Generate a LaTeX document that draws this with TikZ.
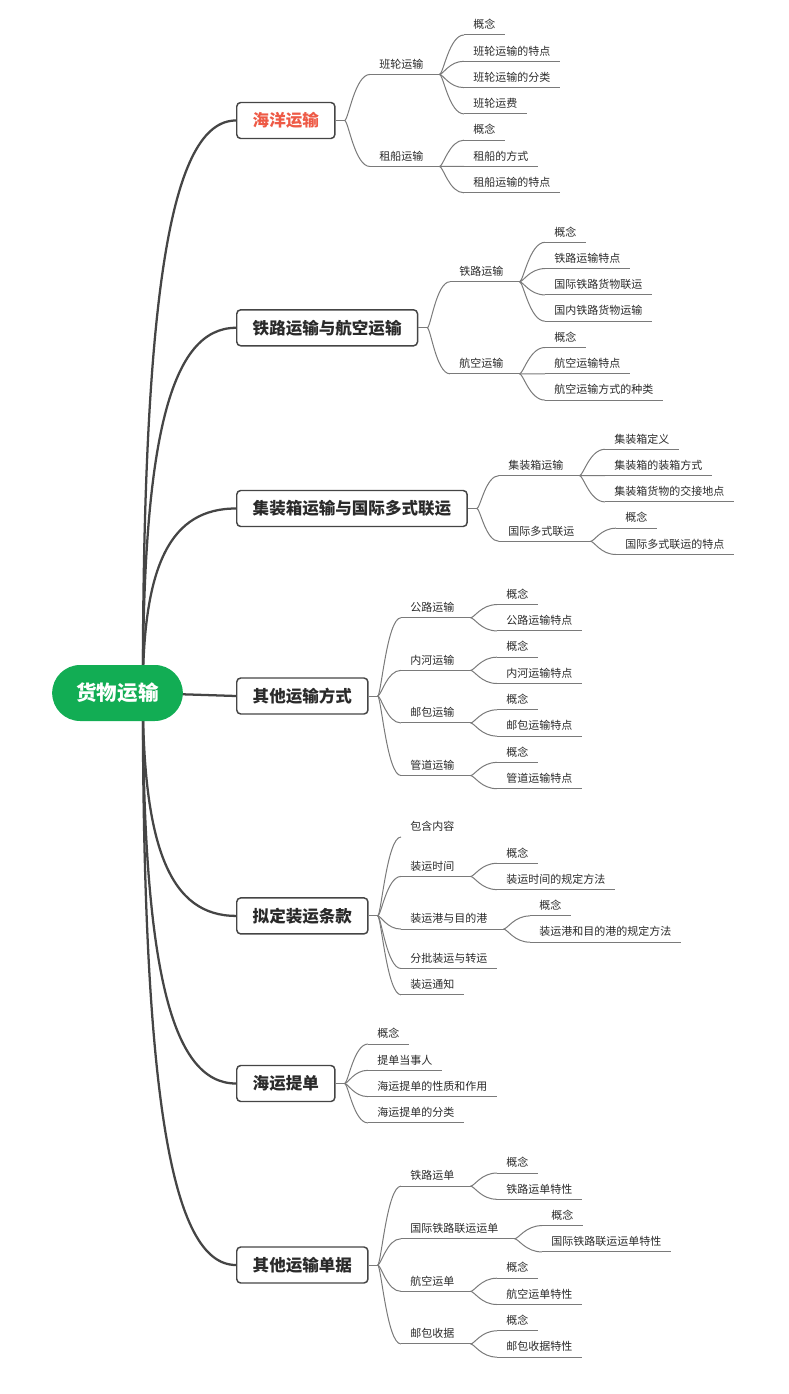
\documentclass[tikz,border=0pt]{standalone}
\usepackage{fontspec}
\setmainfont{Noto Sans CJK SC}
\usetikzlibrary{calc,backgrounds}
\definecolor{trunkgray}{HTML}{454545}
\definecolor{twiggray}{HTML}{7A7A7A}
\definecolor{rootgreen}{HTML}{12AD54}
\definecolor{seared}{HTML}{EE5A46}
\definecolor{inkgray}{HTML}{2A2A2A}
\tikzset{
  rootpill/.style={fill=rootgreen, text=white, rounded corners=21pt,
    minimum width=98pt, minimum height=42pt,
    font=\fontsize{15.4}{18}\selectfont\bfseries},
  topic/.style={draw=trunkgray, line width=1.1pt, fill=white, rounded corners=3pt,
    minimum height=27pt, inner xsep=12pt, anchor=west, text=inkgray,
    font=\fontsize{12.4}{15}\selectfont\bfseries},
  bare/.style={anchor=south west, inner xsep=6.75pt, inner ysep=3pt,
    text height=7pt, text depth=1.5pt, text=inkgray,
    font=\fontsize{8.25}{10}\selectfont},
  item/.style={bare, append after command={(\tikzlastnode.south west)
    edge[twig] (\tikzlastnode.south east)}},
  twig/.style={draw=twiggray, line width=0.75pt},
  trunk/.style={draw=trunkgray, line width=1.7pt, line cap=round},
  twigcurve/.style={to path={.. controls
    ($(\tikztostart)!.15!(\tikztotarget|-\tikztostart)$) and
    ($(\tikztotarget)!.6!(\tikztostart|-\tikztotarget)$) .. (\tikztotarget)}},
  trunkcurve/.style={to path={.. controls
    ($(\tikztostart)!.7!(\tikztostart|-\tikztotarget)$) and
    ($(\tikztotarget)!.7!(\tikztostart|-\tikztotarget)$) .. (\tikztotarget)}}
}
\begin{document}
\begin{tikzpicture}[x=0.75pt, y=-0.75pt]
  \useasboundingbox (0,0) rectangle (788,1394);
  \node[rootpill] (r) at (117.5,693) {货物运输};
  \coordinate (hub) at ([xshift=19pt]r.center);

  \node[topic, text=seared] (b1) at (236,120.5) {海洋运输};
  \node[topic] (b2) at (236,327.8) {铁路运输与航空运输};
  \node[topic] (b3) at (236,508.5) {集装箱运输与国际多式联运};
  \node[topic] (b4) at (236,696) {其他运输方式};
  \node[topic] (b5) at (236,915.9) {拟定装运条款};
  \node[topic] (b6) at (236,1083.5) {海运提单};
  \node[topic] (b7) at (236,1265) {其他运输单据};

  \node[item] (s11) at (370,74.45) {班轮运输};
  \node[item] (s12) at (370,166.5) {租船运输};
  \node[item] (l111) at (464,35) {概念};
  \node[item] (l112) at (464,61.3) {班轮运输的特点};
  \node[item] (l113) at (464,87.6) {班轮运输的分类};
  \node[item] (l114) at (464,113.9) {班轮运费};
  \node[item] (l121) at (464,140.2) {概念};
  \node[item] (l122) at (464,166.5) {租船的方式};
  \node[item] (l123) at (464,192.8) {租船运输的特点};

  \node[item] (s21) at (450,281.75) {铁路运输};
  \node[item] (s22) at (450,373.8) {航空运输};
  \node[item] (l211) at (545,242.3) {概念};
  \node[item] (l212) at (545,268.6) {铁路运输特点};
  \node[item] (l213) at (545,294.9) {国际铁路货物联运};
  \node[item] (l214) at (545,321.2) {国内铁路货物运输};
  \node[item] (l221) at (545,347.5) {概念};
  \node[item] (l222) at (545,373.8) {航空运输特点};
  \node[item] (l223) at (545,400.1) {航空运输方式的种类};

  \node[item] (s31) at (499,475.6) {集装箱运输};
  \node[item] (s32) at (499,541.35) {国际多式联运};
  \node[item] (l311) at (605,449.3) {集装箱定义};
  \node[item] (l312) at (605,475.6) {集装箱的装箱方式};
  \node[item] (l313) at (605,501.9) {集装箱货物的交接地点};
  \node[item] (l321) at (616,528.2) {概念};
  \node[item] (l322) at (616,554.5) {国际多式联运的特点};

  \node[item] (s41) at (401,617.75) {公路运输};
  \node[item] (s42) at (401,670.35) {内河运输};
  \node[item] (s43) at (401,722.95) {邮包运输};
  \node[item] (s44) at (401,775.55) {管道运输};
  \node[item] (l411) at (497,604.6) {概念};
  \node[item] (l412) at (497,630.9) {公路运输特点};
  \node[item] (l421) at (497,657.2) {概念};
  \node[item] (l422) at (497,683.5) {内河运输特点};
  \node[item] (l431) at (497,709.8) {概念};
  \node[item] (l432) at (497,736.1) {邮包运输特点};
  \node[item] (l441) at (497,762.4) {概念};
  \node[item] (l442) at (497,788.7) {管道运输特点};

  \node[bare] (s51) at (401,837) {包含内容};
  \node[item] (s52) at (401,876.45) {装运时间};
  \node[item] (s53) at (401,929.05) {装运港与目的港};
  \node[item] (s54) at (401,968.5) {分批装运与转运};
  \node[item] (s55) at (401,994.8) {装运通知};
  \node[item] (l521) at (497,863.3) {概念};
  \node[item] (l522) at (497,889.6) {装运时间的规定方法};
  \node[item] (l531) at (530,915.9) {概念};
  \node[item] (l532) at (530,942.2) {装运港和目的港的规定方法};

  \node[item] (s61) at (368,1044) {概念};
  \node[item] (s62) at (368,1070.3) {提单当事人};
  \node[item] (s63) at (368,1096.6) {海运提单的性质和作用};
  \node[item] (s64) at (368,1122.9) {海运提单的分类};

  \node[item] (s71) at (401,1186.15) {铁路运单};
  \node[item] (s72) at (401,1238.75) {国际铁路联运运单};
  \node[item] (s73) at (401,1291.35) {航空运单};
  \node[item] (s74) at (401,1343.95) {邮包收据};
  \node[item] (l711) at (497,1173) {概念};
  \node[item] (l712) at (497,1199.3) {铁路运单特性};
  \node[item] (l721) at (542,1225.6) {概念};
  \node[item] (l722) at (542,1251.9) {国际铁路联运运单特性};
  \node[item] (l731) at (497,1278.2) {概念};
  \node[item] (l732) at (497,1304.5) {航空运单特性};
  \node[item] (l741) at (497,1330.8) {概念};
  \node[item] (l742) at (497,1357.1) {邮包收据特性};

  \begin{scope}[on background layer]
    \draw[trunk] (hub) to[trunkcurve] (b1.west);
    \draw[trunk] (hub) to[trunkcurve] (b2.west);
    \draw[trunk] (hub) to[trunkcurve] (b3.west);
    \draw[trunk] (hub) -- (b4.west);
    \draw[trunk] (hub) to[trunkcurve] (b5.west);
    \draw[trunk] (hub) to[trunkcurve] (b6.west);
    \draw[trunk] (hub) to[trunkcurve] (b7.west);
  \end{scope}

  \begin{scope}[twig]
    \draw (b1.east) -- ++(6.75pt,0) coordinate (f1);
    \draw (f1) to[twigcurve] (s11.south west);
    \draw (f1) to[twigcurve] (s12.south west);
    \draw (s11.south east) -- ++(5.25pt,0) coordinate (f11);
    \draw (f11) to[twigcurve] (l111.south west);
    \draw (f11) to[twigcurve] (l112.south west);
    \draw (f11) to[twigcurve] (l113.south west);
    \draw (f11) to[twigcurve] (l114.south west);
    \draw (s12.south east) -- ++(5.25pt,0) coordinate (f12);
    \draw (f12) to[twigcurve] (l121.south west);
    \draw (f12) to[twigcurve] (l122.south west);
    \draw (f12) to[twigcurve] (l123.south west);

    \draw (b2.east) -- ++(6.75pt,0) coordinate (f2);
    \draw (f2) to[twigcurve] (s21.south west);
    \draw (f2) to[twigcurve] (s22.south west);
    \draw (s21.south east) -- ++(5.25pt,0) coordinate (f21);
    \draw (f21) to[twigcurve] (l211.south west);
    \draw (f21) to[twigcurve] (l212.south west);
    \draw (f21) to[twigcurve] (l213.south west);
    \draw (f21) to[twigcurve] (l214.south west);
    \draw (s22.south east) -- ++(5.25pt,0) coordinate (f22);
    \draw (f22) to[twigcurve] (l221.south west);
    \draw (f22) to[twigcurve] (l222.south west);
    \draw (f22) to[twigcurve] (l223.south west);

    \draw (b3.east) -- ++(6.75pt,0) coordinate (f3);
    \draw (f3) to[twigcurve] (s31.south west);
    \draw (f3) to[twigcurve] (s32.south west);
    \draw (s31.south east) -- ++(5.25pt,0) coordinate (f31);
    \draw (f31) to[twigcurve] (l311.south west);
    \draw (f31) to[twigcurve] (l312.south west);
    \draw (f31) to[twigcurve] (l313.south west);
    \draw (s32.south east) -- ++(5.25pt,0) coordinate (f32);
    \draw (f32) to[twigcurve] (l321.south west);
    \draw (f32) to[twigcurve] (l322.south west);

    \draw (b4.east) -- ++(6.75pt,0) coordinate (f4);
    \draw (f4) to[twigcurve] (s41.south west);
    \draw (f4) to[twigcurve] (s42.south west);
    \draw (f4) to[twigcurve] (s43.south west);
    \draw (f4) to[twigcurve] (s44.south west);
    \draw (s41.south east) -- ++(5.25pt,0) coordinate (f41);
    \draw (f41) to[twigcurve] (l411.south west);
    \draw (f41) to[twigcurve] (l412.south west);
    \draw (s42.south east) -- ++(5.25pt,0) coordinate (f42);
    \draw (f42) to[twigcurve] (l421.south west);
    \draw (f42) to[twigcurve] (l422.south west);
    \draw (s43.south east) -- ++(5.25pt,0) coordinate (f43);
    \draw (f43) to[twigcurve] (l431.south west);
    \draw (f43) to[twigcurve] (l432.south west);
    \draw (s44.south east) -- ++(5.25pt,0) coordinate (f44);
    \draw (f44) to[twigcurve] (l441.south west);
    \draw (f44) to[twigcurve] (l442.south west);

    \draw (b5.east) -- ++(6.75pt,0) coordinate (f5);
    \draw (f5) to[twigcurve] (s51.south west);
    \draw (f5) to[twigcurve] (s52.south west);
    \draw (f5) to[twigcurve] (s53.south west);
    \draw (f5) to[twigcurve] (s54.south west);
    \draw (f5) to[twigcurve] (s55.south west);
    \draw (s52.south east) -- ++(5.25pt,0) coordinate (f52);
    \draw (f52) to[twigcurve] (l521.south west);
    \draw (f52) to[twigcurve] (l522.south west);
    \draw (s53.south east) -- ++(5.25pt,0) coordinate (f53);
    \draw (f53) to[twigcurve] (l531.south west);
    \draw (f53) to[twigcurve] (l532.south west);

    \draw (b6.east) -- ++(6.75pt,0) coordinate (f6);
    \draw (f6) to[twigcurve] (s61.south west);
    \draw (f6) to[twigcurve] (s62.south west);
    \draw (f6) to[twigcurve] (s63.south west);
    \draw (f6) to[twigcurve] (s64.south west);

    \draw (b7.east) -- ++(6.75pt,0) coordinate (f7);
    \draw (f7) to[twigcurve] (s71.south west);
    \draw (f7) to[twigcurve] (s72.south west);
    \draw (f7) to[twigcurve] (s73.south west);
    \draw (f7) to[twigcurve] (s74.south west);
    \draw (s71.south east) -- ++(5.25pt,0) coordinate (f71);
    \draw (f71) to[twigcurve] (l711.south west);
    \draw (f71) to[twigcurve] (l712.south west);
    \draw (s72.south east) -- ++(5.25pt,0) coordinate (f72);
    \draw (f72) to[twigcurve] (l721.south west);
    \draw (f72) to[twigcurve] (l722.south west);
    \draw (s73.south east) -- ++(5.25pt,0) coordinate (f73);
    \draw (f73) to[twigcurve] (l731.south west);
    \draw (f73) to[twigcurve] (l732.south west);
    \draw (s74.south east) -- ++(5.25pt,0) coordinate (f74);
    \draw (f74) to[twigcurve] (l741.south west);
    \draw (f74) to[twigcurve] (l742.south west);
  \end{scope}
\end{tikzpicture}
\end{document}
